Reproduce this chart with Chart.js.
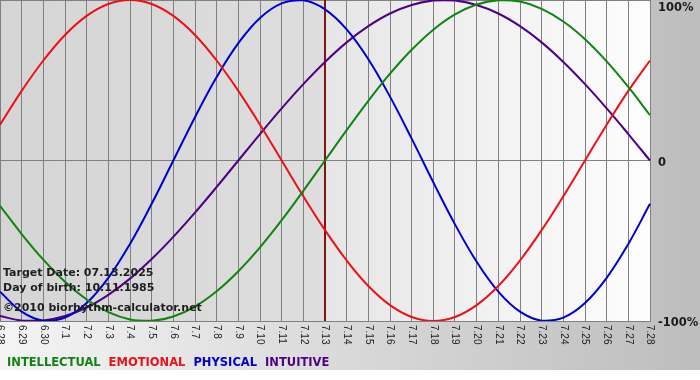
<!DOCTYPE html>
<html>
<head>
<meta charset="utf-8">
<script src="https://cdn.jsdelivr.net/npm/chart.js"></script>
<style>
  body { margin: 0; background: #fff; }
</style>
</head>
<body>
<canvas id="bio" width="700" height="380"></canvas>
<script>
const days = ['6.28','6.29','6.30','7.1','7.2','7.3','7.4','7.5','7.6','7.7','7.8','7.9','7.10','7.11','7.12',
              '7.13','7.14','7.15','7.16','7.17','7.18','7.19','7.20','7.21','7.22','7.23','7.24','7.25','7.26','7.27','7.28'];

const intellectual = [-28.2,-45.8,-61.8,-75.6,-86.6,-94.5,-99,-99.9,-97.2,-91,-81.5,-69,-54.1,-37.2,-18.9,
                      0,18.9,37.2,54.1,69,81.5,91,97.2,99.9,99,94.5,86.6,75.6,61.8,45.8,28.2];
const emotional = [22.3,43.4,62.3,78.2,90.1,97.5,100,97.5,90.1,78.2,62.3,43.4,22.3,0,-22.3,
                   -43.4,-62.3,-78.2,-90.1,-97.5,-100,-97.5,-90.1,-78.2,-62.3,-43.4,-22.3,0,22.3,43.4,62.3];
const physical = [-81.7,-94.2,-99.8,-97.9,-88.8,-73.1,-52,-27,0,27,52,73.1,88.8,97.9,99.8,
                  94.2,81.7,63.1,39.8,13.6,-13.6,-39.8,-63.1,-81.7,-94.2,-99.8,-97.9,-88.8,-73.1,-52,-27];
const intuitive = [-96.9,-99.7,-99.7,-96.9,-91.6,-83.7,-73.6,-61.4,-47.6,-32.5,-16.5,0,16.5,32.5,47.6,
                   61.4,73.6,83.7,91.6,96.9,99.7,99.7,96.9,91.6,83.7,73.6,61.4,47.6,32.5,16.5,0];

const yTickValues = [100, 0, -100];
const yTickLabels = ['100%', '0', '-100%'];
const targetDay = '7.13';
const infoLines = ['Target Date: 07.13.2025', 'Day of birth: 10.11.1985', '\u00a92010 biorhythm-calculator.net'];

// backgrounds, target line, rotated day labels, legend and info text
const bioPlugin = {
  id: 'bio',
  beforeDraw(chart) {
    const { ctx, chartArea: a, width, height } = chart;
    const tx = chart.scales.x.getPixelForValue(days.indexOf(targetDay));
    ctx.save();
    ctx.fillStyle = '#fff';
    ctx.fillRect(0, 0, width, height);
    let g = ctx.createLinearGradient(0, 0, width, 0);
    g.addColorStop(0, '#f4f4f4');
    g.addColorStop(1, '#bdbdbd');
    ctx.fillStyle = g;
    ctx.fillRect(0, 0, width, 370);

    g = ctx.createLinearGradient(a.left, 0, tx, 0);
    g.addColorStop(0, '#d5d5d5');
    g.addColorStop(1, '#dedede');
    ctx.fillStyle = g;
    ctx.fillRect(a.left, a.top, tx - a.left, a.bottom - a.top);

    g = ctx.createLinearGradient(tx, 0, a.right, 0);
    g.addColorStop(0, '#e6e6e6');
    g.addColorStop(1, '#fdfdfd');
    ctx.fillStyle = g;
    ctx.fillRect(tx, a.top, a.right - tx, a.bottom - a.top);
    ctx.restore();
  },
  beforeDatasetsDraw(chart) {
    const { ctx, chartArea: a } = chart;
    const tx = Math.round(chart.scales.x.getPixelForValue(days.indexOf(targetDay)));
    ctx.save();
    ctx.strokeStyle = '#7e1414';
    ctx.lineWidth = 2;
    ctx.beginPath();
    ctx.moveTo(tx, a.top);
    ctx.lineTo(tx, a.bottom);
    ctx.stroke();
    ctx.restore();
  },
  afterDraw(chart) {
    const { ctx, chartArea: a } = chart;
    const xs = chart.scales.x, ys = chart.scales.y;
    ctx.save();

    // day labels, rotated clockwise
    ctx.font = '10px "Liberation Sans"';
    ctx.fillStyle = '#222';
    ctx.textAlign = 'left';
    ctx.textBaseline = 'middle';
    days.forEach((d, i) => {
      ctx.save();
      ctx.translate(xs.getPixelForValue(i), a.bottom + 4);
      ctx.rotate(Math.PI / 2);
      ctx.fillText(d, 0, 0);
      ctx.restore();
    });

    // percent labels on the right
    ctx.font = 'bold 11.5px "DejaVu Sans"';
    ctx.fillStyle = '#1a1a1a';
    ctx.textBaseline = 'alphabetic';
    yTickValues.forEach((v, i) => {
      const py = Math.max(ys.getPixelForValue(v) + 5, 11);
      ctx.fillText(yTickLabels[i], a.right + 8, py);
    });

    // info text
    ctx.font = 'bold 11px "DejaVu Sans"';
    ctx.fillStyle = '#1e1e1e';
    const base = [276, 291, 311];
    infoLines.forEach((t, i) => ctx.fillText(t, 3, base[i]));

    // coloured legend words
    ctx.font = 'bold 11.5px "DejaVu Sans"';
    let lx = 7;
    chart.data.datasets.forEach(ds => {
      ctx.fillStyle = ds.borderColor;
      ctx.fillText(ds.label, lx, 366);
      lx += ctx.measureText(ds.label).width + 8;
    });
    ctx.restore();
  }
};

new Chart(document.getElementById('bio'), {
  type: 'line',
  data: {
    labels: days,
    datasets: [
      { label: 'INTELLECTUAL', data: intellectual, borderColor: 'rgb(16,132,16)' },
      { label: 'EMOTIONAL', data: emotional, borderColor: 'rgb(236,16,24)' },
      { label: 'PHYSICAL', data: physical, borderColor: 'rgb(0,0,204)' },
      { label: 'INTUITIVE', data: intuitive, borderColor: 'rgb(80,0,130)' }
    ].map(ds => Object.assign(ds, { borderWidth: 2, pointRadius: 0, tension: 0.4, fill: false }))
  },
  options: {
    responsive: false,
    animation: false,
    layout: { padding: { left: 0, top: 0, right: 50, bottom: 59 } },
    plugins: { legend: { display: false }, tooltip: { enabled: false } },
    scales: {
      x: {
        offset: false,
        grid: { color: '#808080', drawTicks: false },
        border: { color: '#808080' },
        ticks: { display: false }
      },
      y: {
        position: 'right',
        min: -100,
        max: 100,
        grid: { color: '#808080', drawTicks: false },
        border: { display: false },
        ticks: { display: false, stepSize: 100 }
      }
    }
  },
  plugins: [bioPlugin]
});
</script>
</body>
</html>
